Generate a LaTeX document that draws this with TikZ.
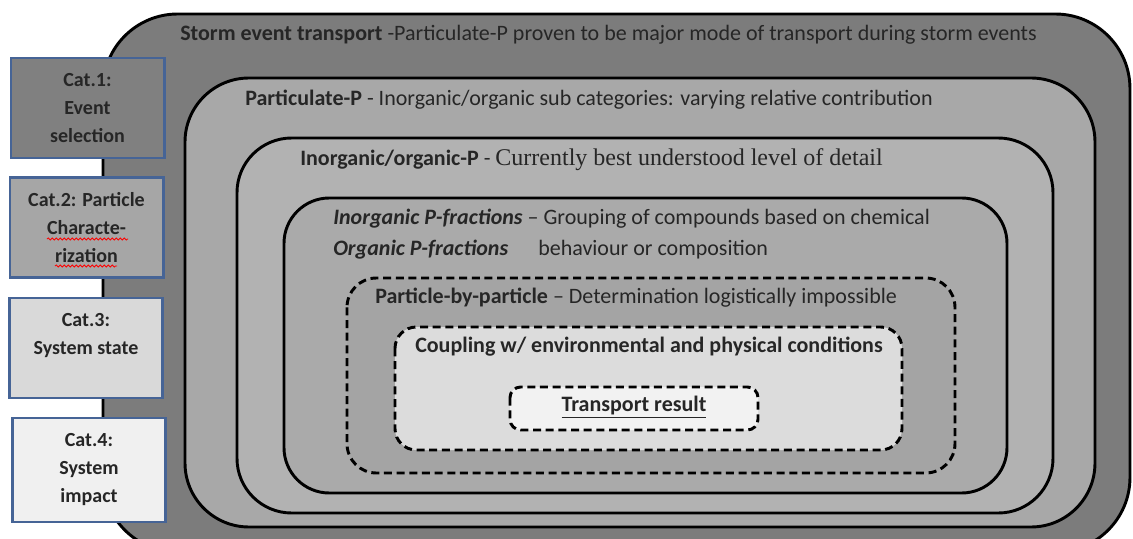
\documentclass[tikz,border=0pt]{standalone}
\usepackage{fontspec}
\setmainfont{Carlito}
\newfontfamily\timesfont{Liberation Serif}
\usetikzlibrary{decorations.pathmorphing}

\definecolor{catblue}{RGB}{70,100,150}
\definecolor{txtgray}{RGB}{38,38,38}

\tikzset{
  ring/.style={draw=black,line width=2.2pt},
  dashring/.style={ring,dash pattern=on 6pt off 3.5pt},
  txt/.style={anchor=west,inner sep=0pt,text=txtgray,font=\fontsize{16.5}{19}\selectfont},
  catbox/.style={draw=catblue,line width=2pt,align=center,inner sep=0pt,
    minimum width=115pt,minimum height=75pt,text=txtgray,
    font=\bfseries\fontsize{15}{21}\selectfont}
}

\begin{document}
\begin{tikzpicture}[x=0.75pt,y=-0.75pt]
     \useasboundingbox (0,0) rectangle (1133,539);
     \clip (0,0) rectangle (1133,539);

     % nested levels, outer to inner
     \draw[ring,fill={rgb,255:red,124;green,124;blue,124},rounded corners=56pt] (103,14) rectangle (1130,552);
     \draw[ring,fill={rgb,255:red,168;green,168;blue,168},rounded corners=48pt] (185,78) rectangle (1095,527);
     \draw[ring,fill={rgb,255:red,178;green,178;blue,178},rounded corners=41pt] (237,138) rectangle (1053,513);
     \draw[ring,fill={rgb,255:red,170;green,170;blue,170},rounded corners=34pt] (284,198) rectangle (1007,493);
     \draw[dashring,fill={rgb,255:red,164;green,164;blue,164},rounded corners=22pt] (347,278) rectangle (955,473);
     \draw[dashring,fill={rgb,255:red,220;green,220;blue,220},rounded corners=16pt] (395,327) rectangle (902,450);
     \draw[dashring,fill={rgb,255:red,242;green,242;blue,242},rounded corners=8pt] (510,387) rectangle (758,430);

     % level texts
     \node[txt] (storm) at (180,35) {\textbf{Storm event transport} -Particulate-P proven to be major mode of transport during storm events};
     \node[txt] (partP) at (245,100) {\textbf{Particulate-P} - Inorganic/organic sub categories: varying relative contribution};
     \node[txt] (inorg) at (300,160) {\textbf{Inorganic/organic-P} - {\timesfont\fontsize{18}{20}\selectfont Currently best understood level of detail}};
     \node[txt] (fracA) at (333,219) {\textbf{\textit{Inorganic P-fractions}} -- Grouping of compounds based on chemical};
     \node[txt] (fracB) at (333,250) {\textbf{\textit{Organic P-fractions}}};
     \node[txt] (fracC) at (538,250) {behaviour or composition};
     \node[txt] (pbyp) at (375,298) {\textbf{Particle-by-particle} -- Determination logistically impossible};
     \node[txt] (coupl) at (415,347) {\textbf{Coupling w/ environmental and physical conditions}};
     \node[txt,anchor=center] (result) at (634,407) {\textbf{\underline{Transport result}}};

     % categories on the left
     \node[catbox,fill={rgb,255:red,128;green,128;blue,128}] (cat1) at (87.5,108) {Cat.1:\\Event\\selection};
     \node[catbox,fill={rgb,255:red,166;green,166;blue,166}] (cat2) at (86.5,227.5) {Cat.2: Particle\\Characte-\\rization};
     \node[catbox,fill={rgb,255:red,217;green,217;blue,217}] (cat3) at (86,348) {Cat.3:\\System state\\\mbox{}};
     \node[catbox,fill={rgb,255:red,240;green,240;blue,240},minimum height=78pt] (cat4) at (89,470) {Cat.4:\\System\\impact};

     % spell check marks
     \draw[red,line width=0.6pt,decorate,decoration={snake,amplitude=0.8pt,segment length=3pt}] (47,239) -- (128,239);
     \draw[red,line width=0.6pt,decorate,decoration={snake,amplitude=0.8pt,segment length=3pt}] (55,266) -- (117,266);
\end{tikzpicture}
\end{document}
